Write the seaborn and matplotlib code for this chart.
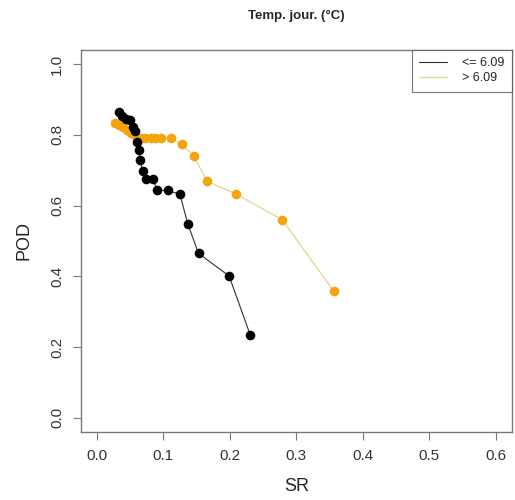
import matplotlib
matplotlib.use("Agg")
import matplotlib.pyplot as plt
import pandas as pd
import seaborn as sns
from matplotlib.lines import Line2D

# data
low_sr = [0.033, 0.038, 0.044, 0.050, 0.054, 0.057, 0.060, 0.063, 0.065, 0.069,
          0.074, 0.084, 0.091, 0.107, 0.125, 0.137, 0.153, 0.199, 0.231]
low_pod = [0.864, 0.854, 0.845, 0.842, 0.821, 0.810, 0.781, 0.758, 0.728, 0.697,
           0.676, 0.676, 0.643, 0.643, 0.632, 0.547, 0.465, 0.401, 0.233]

high_sr = [0.028, 0.034, 0.040, 0.046, 0.052, 0.058, 0.066, 0.073, 0.081, 0.088,
           0.097, 0.111, 0.128, 0.146, 0.166, 0.209, 0.279, 0.356]
high_pod = [0.835, 0.828, 0.822, 0.815, 0.806, 0.800, 0.790, 0.790, 0.790, 0.790,
            0.790, 0.790, 0.775, 0.739, 0.669, 0.633, 0.560, 0.359]

labels = ["<= 6.09", "> 6.09"]
title = "Temp. jour. (\u00b0C)"
xticks = [0.0, 0.1, 0.2, 0.3, 0.4, 0.5, 0.6]
yticks = [0.0, 0.2, 0.4, 0.6, 0.8, 1.0]

low = pd.DataFrame({"SR": low_sr, "POD": low_pod})
high = pd.DataFrame({"SR": high_sr, "POD": high_pod})

sns.set_style("white")
plt.rcParams["font.family"] = ["Liberation Sans", "DejaVu Sans"]

fig = plt.figure(figsize=(5.15, 5.0), dpi=100)
ax = fig.add_axes([0.157, 0.136, 0.8366, 0.764])

line_low = "#303030"
line_high = "#e3da96"
dot_low = "black"
dot_high = "#f5a30a"

sns.lineplot(data=high, x="SR", y="POD", sort=False, estimator=None,
             color=line_high, linewidth=1.0, ax=ax)
sns.scatterplot(data=high, x="SR", y="POD", color=dot_high, s=48,
                linewidth=0, ax=ax, zorder=3)
sns.lineplot(data=low, x="SR", y="POD", sort=False, estimator=None,
             color=line_low, linewidth=0.8, ax=ax)
sns.scatterplot(data=low, x="SR", y="POD", color=dot_low, s=48,
                linewidth=0, ax=ax, zorder=4)

ax.set_xlim(-0.024, 0.624)
ax.set_ylim(-0.04, 1.04)
ax.set_xticks(xticks)
ax.set_yticks(yticks)
ax.set_xticklabels([f"{v:.1f}" for v in xticks])
ax.set_yticklabels([f"{v:.1f}" for v in yticks], rotation=90, va="center")

grey = "#7a7a7a"
for sp in ax.spines.values():
    sp.set_color(grey)
    sp.set_linewidth(1.0)
ax.tick_params(axis="both", direction="out", length=6, width=0.8,
               color=grey, labelsize=11, labelcolor="#333333", pad=6)
ax.tick_params(axis="both", bottom=True, left=True)

ax.set_xlabel("SR", fontsize=13, color="#222222", labelpad=11)
ax.set_ylabel("POD", fontsize=13, color="#222222", labelpad=13)
fig.suptitle(title, fontsize=9.5, fontweight="bold", x=0.575, y=0.98)

handles = [Line2D([0], [0], color=line_low, lw=0.8),
           Line2D([0], [0], color=line_high, lw=1.0)]
leg = ax.legend(handles, labels, loc="upper right", bbox_to_anchor=(1.0, 1.0),
                fontsize=9, frameon=True, fancybox=False, handlelength=2.2,
                borderpad=0.6, labelspacing=0.2, handletextpad=1.2,
                borderaxespad=0.0)
leg.get_frame().set_edgecolor("#555555")
leg.get_frame().set_linewidth(0.8)

fig.savefig("out.png", dpi=100)
